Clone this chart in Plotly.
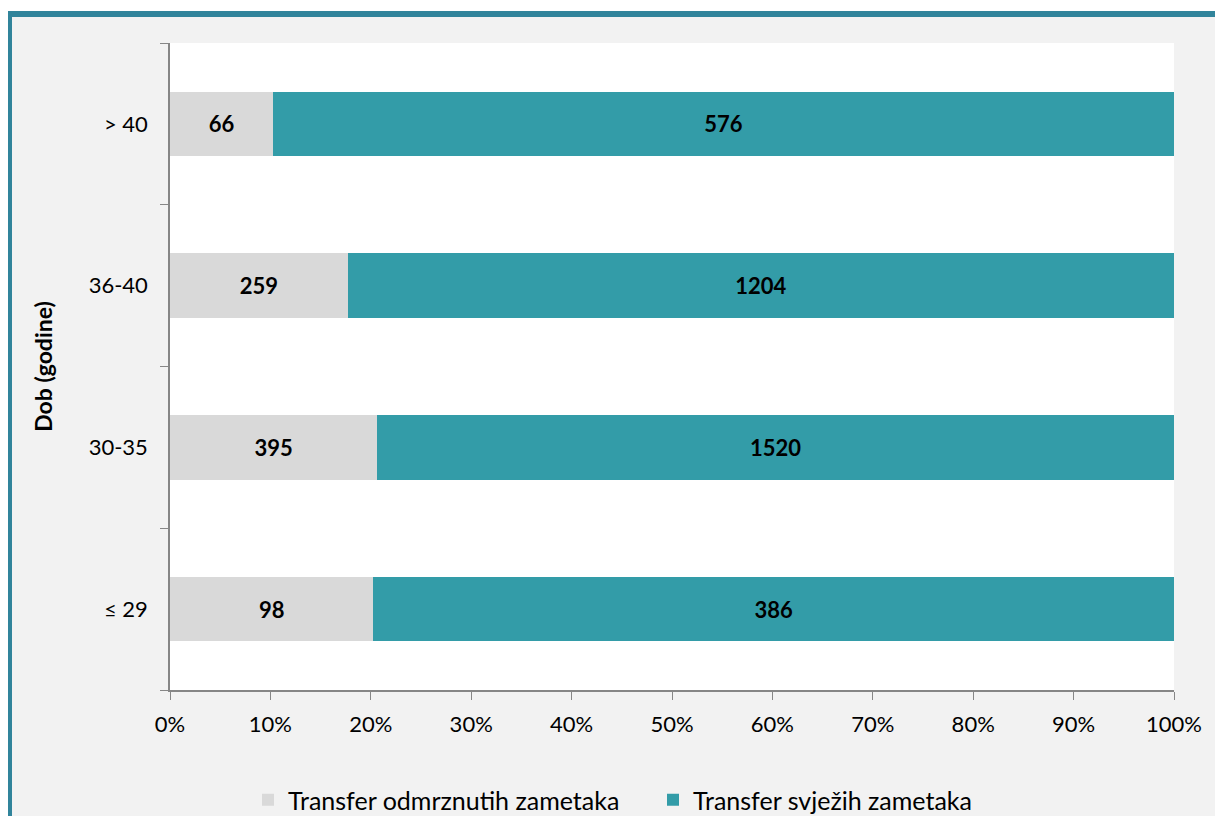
import plotly.graph_objects as go

categories = ["≤ 29", "30-35", "36-40", "> 40"]
frozen = [98, 395, 259, 66]
fresh = [386, 1520, 1204, 576]
x_ticks = [0, 10, 20, 30, 40, 50, 60, 70, 80, 90, 100]
x_tick_labels = [f"{v}%" for v in x_ticks]

FONT = "Lato"
OFF = 8  # page body margin
W, H = 1223 - OFF, 816 - OFF
L, R, T, B = 170 - OFF, 1174 - OFF, 43 - OFF, 690 - OFF

def px(x):
    return (x - OFF - L) / (R - L)

def py(y):
    return (B - (y - OFF)) / (B - T)

fig = go.Figure()
fig.add_trace(go.Bar(
    y=categories, x=frozen, orientation="h", name="Transfer odmrznutih zametaka",
    marker=dict(color="#d9d9d9", line=dict(width=0)),
    text=[str(v) for v in frozen], textposition="inside", insidetextanchor="middle",
    textfont=dict(family=FONT, size=22, color="black", weight="bold"),
))
fig.add_trace(go.Bar(
    y=categories, x=fresh, orientation="h", name="Transfer svježih zametaka",
    marker=dict(color="#339ca8", line=dict(width=0)),
    text=[str(v) for v in fresh], textposition="inside", insidetextanchor="middle",
    textfont=dict(family=FONT, size=22, color="black", weight="bold"),
))

shapes = [
    dict(type="rect", xref="paper", yref="paper", x0=px(0), x1=px(1223), y0=py(0), y1=py(11),
         fillcolor="white", line=dict(width=0), layer="above"),
    dict(type="rect", xref="paper", yref="paper", x0=px(8), x1=px(1223), y0=py(11), y1=py(17),
         fillcolor="#31849b", line=dict(width=0), layer="above"),
    dict(type="rect", xref="paper", yref="paper", x0=px(8), x1=px(12), y0=py(11), y1=py(816),
         fillcolor="#31849b", line=dict(width=0), layer="above"),
]

fig.update_layout(
    width=W, height=H,
    barmode="stack", barnorm="percent", bargap=0.6,
    paper_bgcolor="#f2f2f2", plot_bgcolor="white",
    margin=dict(l=L, r=W - R, t=T, b=H - B, pad=0, autoexpand=False),
    font=dict(family=FONT, size=22, color="black"),
    shapes=shapes,
    showlegend=True,
    legend=dict(orientation="h", x=px(248), xanchor="left", y=py(800), yanchor="middle",
                traceorder="normal", entrywidth=360, entrywidthmode="pixels",
                font=dict(family=FONT, size=25, color="black"), bgcolor="rgba(0,0,0,0)",
                itemwidth=30, tracegroupgap=0),
    xaxis=dict(range=[0, 100], tickvals=x_ticks, ticktext=x_tick_labels,
               ticks="outside", ticklen=8, tickcolor="#868686", showgrid=False,
               showline=True, linecolor="#868686", linewidth=1.5, zeroline=False,
               ticklabelstandoff=6,
               tickfont=dict(family=FONT, size=22, color="black")),
    yaxis=dict(type="category", categoryorder="array", categoryarray=categories,
               ticks="outside", ticklen=8, tickcolor="#868686", tickson="boundaries",
               showline=True, linecolor="#868686", linewidth=1.5, showgrid=False,
               tickfont=dict(family=FONT, size=22, color="black"),
               ticklabelstandoff=16,
               title=dict(text="<b>Dob (godine)</b>", font=dict(family=FONT, size=23, color="black"),
                          standoff=30)),
)

fig.write_html("out.html")
